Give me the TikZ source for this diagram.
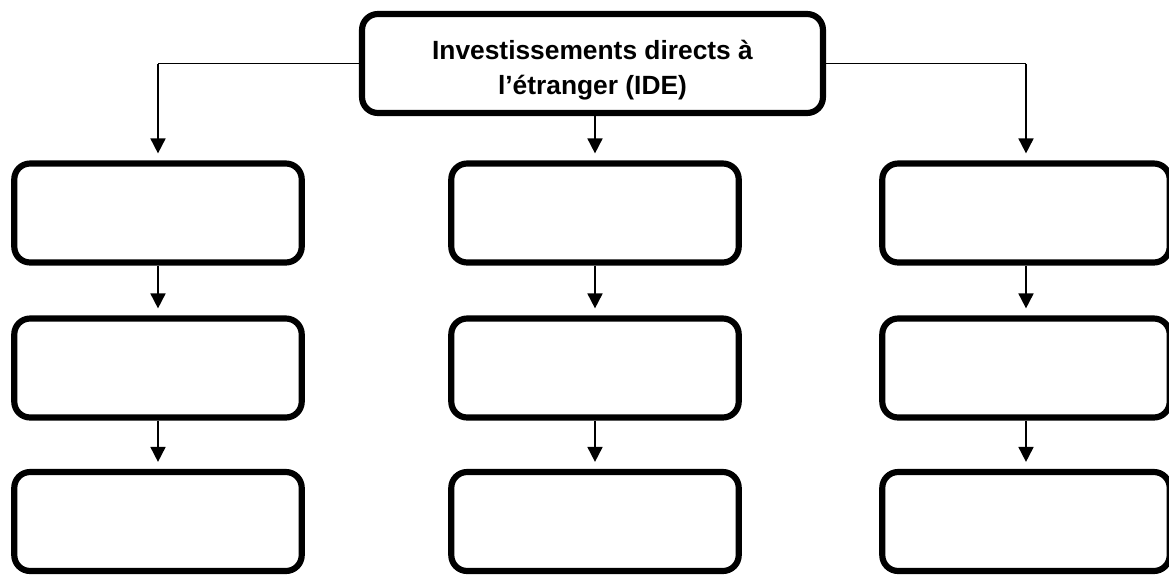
\documentclass[tikz,border=0pt]{standalone}
\usepackage{fontspec}
\setmainfont{Liberation Sans}
\usepackage{tikz}
\usetikzlibrary{arrows.meta, positioning}

\begin{document}
\begin{tikzpicture}[
    x=0.02cm, y=-0.02cm,
    every node/.style={font=\fontsize{15}{20}\selectfont\bfseries},
    box/.style={draw=black, line width=3.5pt, rounded corners=9pt, minimum width=5.75cm, minimum height=1.98cm, inner sep=0pt},
    topbox/.style={box, minimum width=9.22cm, align=center},
    link/.style={line width=1pt, -{Triangle[length=8.5pt, width=8.5pt]}, shorten >=4pt},
    branch/.style={line width=0.6pt}
]

\useasboundingbox (0,0) rectangle (1169,575);

% Top - IDE
\node[topbox] (ide) at (592.5, 63.5) {\raisebox{-3.5pt}[\height][\depth]{\begin{tabular}{@{}c@{}}Investissements directs à\\l’étranger (IDE)\end{tabular}}};

% Row 1
\foreach \c/\x in {1/158, 2/595, 3/1026} {
    \node[box] (r1c\c) at (\x, 213) {};
}

% Row 2
\foreach \c/\x in {1/158, 2/595, 3/1026} {
    \node[box] (r2c\c) at (\x, 368) {};
}

% Row 3
\foreach \c/\x in {1/158, 2/595, 3/1026} {
    \node[box] (r3c\c) at (\x, 521.5) {};
}

% Branches from the top box
\coordinate (kneeL) at (ide.west -| r1c1.north);
\coordinate (kneeR) at (ide.east -| r1c3.north);
\draw[branch] (ide.west) -- (kneeL);
\draw[branch] (ide.east) -- (kneeR);
\draw[link] (kneeL) -- (r1c1.north);
\draw[link] (kneeR) -- (r1c3.north);
\draw[link] (ide.south -| r1c2.north) -- (r1c2.north);

% Arrows down each column
\foreach \c in {1,2,3} {
    \draw[link] (r1c\c.south) -- (r2c\c.north);
    \draw[link] (r2c\c.south) -- (r3c\c.north);
}

\end{tikzpicture}
\end{document}
